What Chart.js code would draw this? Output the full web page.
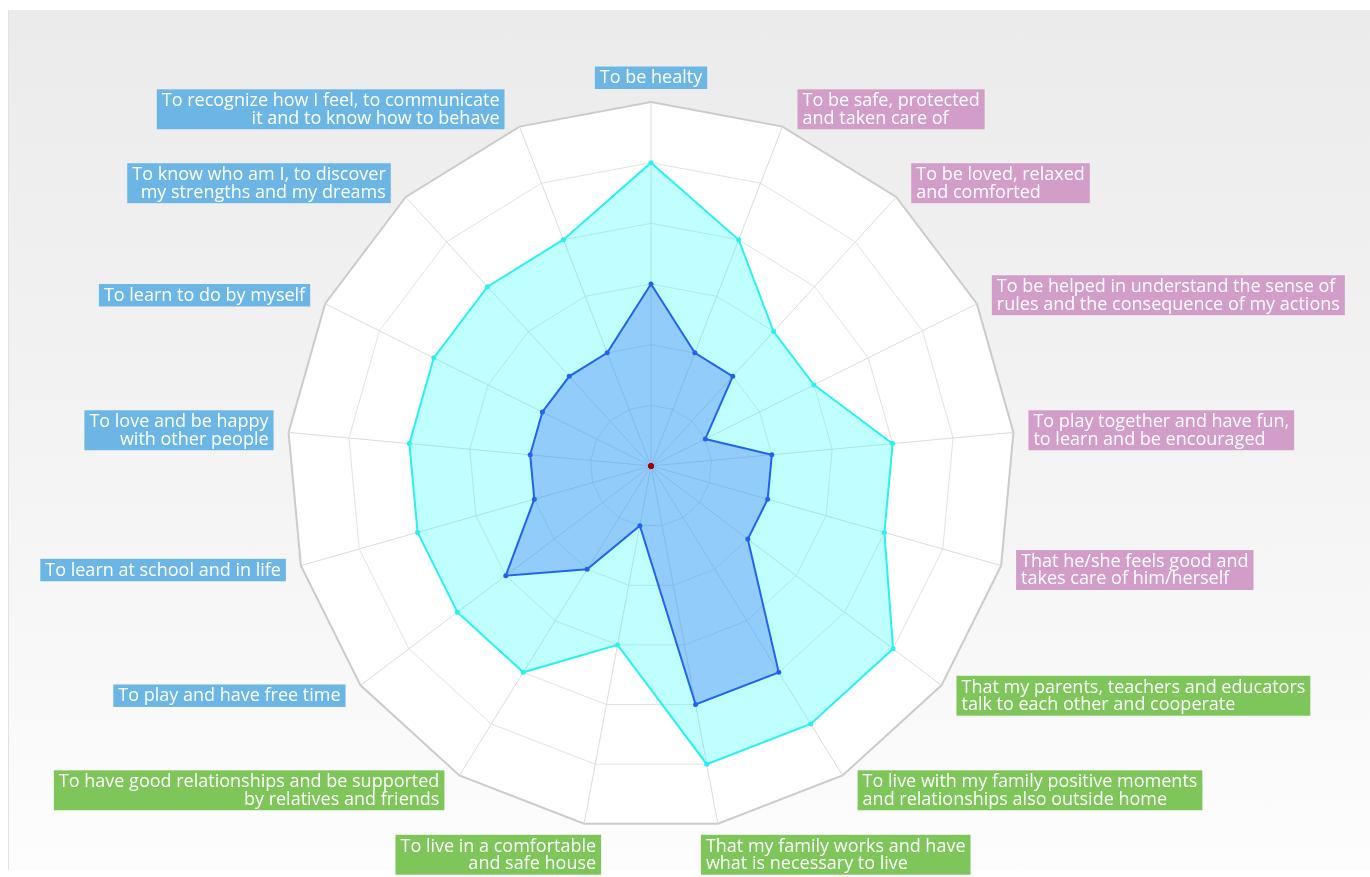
<!DOCTYPE html>
<html>
<head>
<meta charset="utf-8">
<title>Needs radar</title>
<script src="https://cdn.jsdelivr.net/npm/chart.js@4.4.1/dist/chart.umd.min.js"></script>
<style>
  html, body { margin: 0; padding: 0; background: #fff; }
  #panel {
    position: absolute; left: 8px; top: 10px; width: 1362px; height: 860px;
    background: linear-gradient(#ebebeb, #f4f4f4 55%, #fdfdfd);
    border-left: 1px solid #e2e2e2;
  }
  #wrap { position: absolute; left: 0; top: 0; width: 1370px; height: 877px; }
</style>
</head>
<body>
<div id="panel"></div>
<div id="wrap"><canvas id="needsChart"></canvas></div>
<script>
// Data
const categories = [
  ['To be healty'],
  ['To be safe, protected', 'and taken care of'],
  ['To be loved, relaxed', 'and comforted'],
  ['To be helped in understand the sense of', 'rules and the consequence of my actions'],
  ['To play together and have fun,', 'to learn and be encouraged'],
  ['That he/she feels good and', 'takes care of him/herself'],
  ['That my parents, teachers and educators', 'talk to each other and cooperate'],
  ['To live with my family positive moments', 'and relationships also outside home'],
  ['That my family works and have', 'what is necessary to live'],
  ['To live in a comfortable', 'and safe house'],
  ['To have good relationships and be supported', 'by relatives and friends'],
  ['To play and have free time'],
  ['To learn at school and in life'],
  ['To love and be happy', 'with other people'],
  ['To learn to do by myself'],
  ['To know who am I, to discover', 'my strengths and my dreams'],
  ['To recognize how I feel, to communicate', 'it and to know how to behave']
];
const categoryGroups = ['child', 'care', 'care', 'care', 'care', 'care', 'family', 'family', 'family',
  'family', 'family', 'child', 'child', 'child', 'child', 'child', 'child'];
const outerValues = [5, 4, 3, 3, 4, 4, 5, 5, 5, 3, 4, 4, 4, 4, 4, 4, 4];
const innerValues = [3, 2, 2, 1, 2, 2, 2, 4, 4, 1, 2, 3, 2, 2, 2, 2, 2];
const baseValues = [0, 0, 0, 0, 0, 0, 0, 0, 0, 0, 0, 0, 0, 0, 0, 0, 0];
const scaleMax = 6;

const groupColors = { child: '#6cb6e6', care: '#d29dc9', family: '#7ec55a' };

// Layout of the radar
const CENTER_X = 651, CENTER_Y = 466, RADIUS = 364;
const BOX_PAD = { top: 3, bottom: 2, left: 5, right: 5 };

// white face inside the outer polygon
const polygonFace = {
  id: 'polygonFace',
  beforeDraw(chart) {
    const r = chart.scales.r;
    const c = chart.ctx;
    c.save();
    c.beginPath();
    categories.forEach((_, i) => {
      const p = r.getPointPosition(i, r.drawingArea);
      if (i === 0) c.moveTo(p.x, p.y); else c.lineTo(p.x, p.y);
    });
    c.closePath();
    c.fillStyle = '#ffffff';
    c.fill();
    c.restore();
  }
};

// place radar and labels the way the original does
function placeRadar(scale) {
  scale.xCenter = CENTER_X;
  scale.yCenter = CENTER_Y;
  scale.drawingArea = RADIUS;
  const items = scale._pointLabelItems || [];
  items.forEach((item, i) => {
    const w = item.right - item.left, h = item.bottom - item.top;
    const v = scale.getPointPosition(i, RADIUS);
    const ux = (v.x - CENTER_X) / RADIUS, uy = (v.y - CENTER_Y) / RADIUS;
    let align, left, top;
    if (Math.abs(ux) < 1e-6) {
      align = 'center';
      left = v.x - w / 2;
      top = uy < 0 ? v.y - 13 - BOX_PAD.bottom - h : v.y + 13 + BOX_PAD.top;
    } else if (Math.abs(ux) < 0.3) {
      align = ux > 0 ? 'left' : 'right';
      left = ux > 0 ? v.x - 17 + BOX_PAD.left : v.x + 17 - BOX_PAD.right - w;
      top = uy > 0 ? v.y + 11 + BOX_PAD.top : v.y - 11 - BOX_PAD.bottom - h;
    } else {
      align = ux > 0 ? 'left' : 'right';
      left = ux > 0 ? v.x + 15 + BOX_PAD.left : v.x - 15 - BOX_PAD.right - w;
      top = v.y + uy * 18 - h / 2;
    }
    item.textAlign = align;
    item.x = align === 'center' ? left + w / 2 : (align === 'left' ? left : left + w);
    item.y = top;
    item.left = left; item.right = left + w;
    item.top = top; item.bottom = top + h;
  });
}

const ctx = document.getElementById('needsChart').getContext('2d');
new Chart(ctx, {
  type: 'radar',
  data: {
    labels: categories,
    datasets: [
      {
        label: 'Base',
        data: baseValues,
        borderWidth: 0,
        showLine: false,
        fill: false,
        pointRadius: 2.5,
        pointBorderWidth: 0,
        pointBackgroundColor: '#a80000'
      },
      {
        label: 'Inner',
        data: innerValues,
        borderColor: '#2162f0',
        borderWidth: 2,
        backgroundColor: 'rgba(60, 110, 240, 0.35)',
        fill: true,
        pointRadius: 2.5,
        pointBorderWidth: 0,
        pointBackgroundColor: '#2162f0'
      },
      {
        label: 'Outer',
        data: outerValues,
        borderColor: '#2cf0f0',
        borderWidth: 2,
        backgroundColor: 'rgba(0, 255, 255, 0.25)',
        fill: true,
        pointRadius: 2.5,
        pointBorderWidth: 0,
        pointBackgroundColor: '#2cf0f0'
      }
    ]
  },
  options: {
    responsive: true,
    maintainAspectRatio: false,
    animation: false,
    elements: { line: { tension: 0 } },
    plugins: {
      legend: { display: false },
      tooltip: { enabled: false }
    },
    scales: {
      r: {
        min: 0,
        max: scaleMax,
        ticks: { stepSize: 1, display: false },
        grid: {
          color: c => (c.tick && c.tick.value === scaleMax ? '#cbcbcb' : '#e3e3e3'),
          lineWidth: c => (c.tick && c.tick.value === scaleMax ? 2 : 1)
        },
        angleLines: { color: '#dcdcdc', lineWidth: 1 },
        pointLabels: {
          color: '#ffffff',
          font: { family: '"Open Sans", "Liberation Sans", sans-serif', size: 18, lineHeight: 0.97 },
          backdropColor: c => groupColors[categoryGroups[c.index]],
          backdropPadding: BOX_PAD,
          padding: 10
        },
        afterFit: placeRadar
      }
    }
  },
  plugins: [polygonFace]
});
</script>
</body>
</html>
